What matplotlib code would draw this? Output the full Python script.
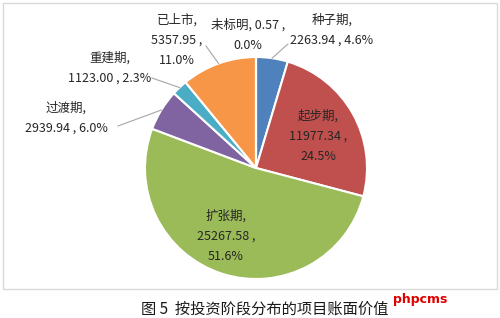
import matplotlib
matplotlib.use('Agg')
import matplotlib.pyplot as plt
import numpy as np
from matplotlib.patches import Rectangle

plt.rcParams['font.family'] = ['Noto Sans CJK SC', 'DejaVu Sans']

# data
stages = ['种子期', '起步期', '扩张期', '过渡期', '重建期', '已上市', '未标明']
values = [2263.94, 11977.34, 25267.58, 2939.94, 1123.00, 5357.95, 0.57]
colors = ['#4F81BD', '#C0504D', '#9BBB59', '#8064A2', '#4BACC6', '#F79646', '#F5C09A']

# how each label is broken into lines, and where it sits (image pixels)
label_fmt = ['{n},\n{v} , {p}', '{n},\n{v} ,\n{p}', '{n},\n{v} ,\n{p}', '{n},\n{v} , {p}',
             '{n},\n{v} , {p}', '{n},\n{v} ,\n{p}', '{n}, {v} ,\n{p}']
label_px = [(332, 30), (318, 136), (226, 236), (66, 118), (110, 68), (177, 40), (248, 35)]
leader_end = [(288, 44), None, None, (118, 126), (152, 78), (206, 46), None]

caption = '图 5  按投资阶段分布的项目账面价值'

W, H = 500, 318
cx, cy, R = 256, 168, 111

fig = plt.figure(figsize=(W / 100, H / 100), dpi=100)
fig.patch.set_facecolor('white')

# chart frame
fig.add_artist(Rectangle((3 / W, (H - 289) / H), 494 / W, 286 / H, transform=fig.transFigure,
                         fill=False, edgecolor='#d9d9d9', linewidth=1))

ax = fig.add_axes([(cx - R) / W, (H - cy - R) / H, 2 * R / W, 2 * R / H])
ax.pie(values, colors=colors, startangle=90, counterclock=False, radius=1,
       wedgeprops=dict(edgecolor='white', linewidth=1.5))
ax.set_xlim(-1, 1)
ax.set_ylim(-1, 1)
ax.set_aspect('equal')
ax.axis('off')

total = sum(values)
angle0 = 90.0
for i, (n, v) in enumerate(zip(stages, values)):
    frac = v / total
    mid = np.deg2rad(angle0 - 360 * frac / 2)
    angle0 -= 360 * frac
    txt = label_fmt[i].format(n=n, v='%.2f' % v, p='%.1f%%' % (frac * 100))
    tx, ty = label_px[i]
    ax.text((tx - cx) / R, (cy - ty) / R, txt, ha='center', va='center', fontsize=9,
            color='#262626', linespacing=1.75, clip_on=False)
    if leader_end[i] is not None:
        ex, ey = leader_end[i]
        ax.plot([np.cos(mid), (ex - cx) / R], [np.sin(mid), (cy - ey) / R],
                color='#a6a6a6', linewidth=0.8, clip_on=False)

fig.text(265 / W, 1 - 309 / H, caption, ha='center', va='center', fontsize=11, color='#1a1a1a')
fig.text(420 / W, 1 - 300 / H, 'phpcms', ha='center', va='center', fontsize=9,
         color='#e00000', fontweight='bold', family='DejaVu Sans')

fig.savefig('out.png', dpi=100)
